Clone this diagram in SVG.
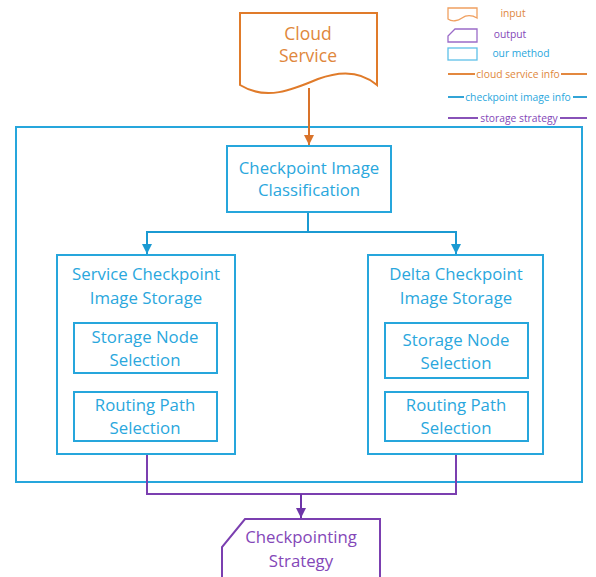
<svg xmlns="http://www.w3.org/2000/svg" width="596" height="577" viewBox="0 0 596 577">
<defs>
<marker id="ao" viewBox="0 0 10 10" refX="10" refY="5" markerWidth="10" markerHeight="10" markerUnits="userSpaceOnUse" orient="auto"><path d="M0,0 L10,5 L0,10 Z" fill="#D9732A"/></marker>
<marker id="ab" viewBox="0 0 10 10" refX="10" refY="5" markerWidth="10" markerHeight="10" markerUnits="userSpaceOnUse" orient="auto"><path d="M0,0 L10,5 L0,10 Z" fill="#1B9AD2"/></marker>
<marker id="ap" viewBox="0 0 10 10" refX="10" refY="5" markerWidth="10" markerHeight="10" markerUnits="userSpaceOnUse" orient="auto"><path d="M0,0 L10,5 L0,10 Z" fill="#6E35A8"/></marker>
<style>
text{font-family:"Open Sans","Liberation Sans",sans-serif;text-anchor:middle}
.t{font-size:16.8px}
.bl{fill:#2AA7DD}
.bx{fill:#fff;stroke:#26A6DC;stroke-width:2}
.or{fill:#E0873C}
.pu{fill:#8447B8}
.lg{font-size:10.3px}
</style>
</defs>
<g id="outer"><rect x="16" y="127" width="566" height="355" fill="none" stroke="#26A6DC" stroke-width="2"/></g>
<g id="legend">
<path d="M448,8 H477 V18 C472,15 466,15 462,18 C458,21 452,22 448,19 Z" fill="none" stroke="#F0A060" stroke-width="1.3"/>
<text class="lg or" x="513" y="17">input</text>
<path d="M448,42 V36 L455,29 H477 V42 Z" fill="none" stroke="#9B6BC8" stroke-width="1.3"/>
<text class="lg pu" x="510" y="38">output</text>
<rect x="448" y="48" width="29" height="12" fill="none" stroke="#5EC0E8" stroke-width="1.3"/>
<text class="lg bl" x="521" y="57">our method</text>
<line x1="448" y1="74" x2="475" y2="74" stroke="#E07B2A" stroke-width="1.8"/>
<line x1="561" y1="74" x2="587" y2="74" stroke="#E07B2A" stroke-width="1.8"/>
<text class="lg or" x="518" y="77.5">cloud service info</text>
<line x1="448" y1="97" x2="464" y2="97" stroke="#1B9AD2" stroke-width="1.8"/>
<line x1="573" y1="97" x2="587" y2="97" stroke="#1B9AD2" stroke-width="1.8"/>
<text class="lg bl" x="518" y="100.5">checkpoint image info</text>
<line x1="448" y1="118" x2="478" y2="118" stroke="#7B3FB0" stroke-width="1.8"/>
<line x1="560" y1="118" x2="587" y2="118" stroke="#7B3FB0" stroke-width="1.8"/>
<text class="lg pu" x="519" y="121.5">storage strategy</text>
</g>
<g id="connectors" fill="none" stroke-width="2">
<path d="M309,88 V145" stroke="#D9732A" marker-end="url(#ao)"/>
<path d="M308,212 V232 H147 V254" stroke="#1B9AD2" marker-end="url(#ab)"/>
<path d="M308,232 H456 V254" stroke="#1B9AD2" marker-end="url(#ab)"/>
<path d="M147,454 V494 H456 V454" stroke="#7B3FB0"/>
<path d="M301,494 V518" stroke="#6E35A8" marker-end="url(#ap)"/>
</g>
<g id="cloud-service">
<path d="M240,13 H377 V85 C362,72 342,70 318,79 C292,90 266,101 240,85 Z" fill="#fff" stroke="#E07B2A" stroke-width="2"/>
<text class="or" x="308" y="40" font-size="17.5">Cloud</text>
<text class="or" x="308" y="62" font-size="17.5">Service</text>
</g>
<g id="classification">
<rect class="bx" x="227" y="146" width="164" height="66"/>
<text class="t bl" x="309" y="174">Checkpoint Image</text>
<text class="t bl" x="309" y="196">Classification</text>
</g>
<g id="service-storage">
<rect class="bx" x="57" y="255" width="178" height="199"/>
<text class="t bl" x="146" y="280">Service Checkpoint</text>
<text class="t bl" x="146" y="304">Image Storage</text>
</g>
<g id="service-node">
<rect class="bx" x="74" y="323" width="143" height="50"/>
<text class="t bl" x="145" y="343">Storage Node</text>
<text class="t bl" x="145" y="366">Selection</text>
</g>
<g id="service-routing">
<rect class="bx" x="74" y="392" width="143" height="49"/>
<text class="t bl" x="145" y="411">Routing Path</text>
<text class="t bl" x="145" y="434">Selection</text>
</g>
<g id="delta-storage">
<rect class="bx" x="368" y="255" width="175" height="199"/>
<text class="t bl" x="456" y="280">Delta Checkpoint</text>
<text class="t bl" x="456" y="304">Image Storage</text>
</g>
<g id="delta-node">
<rect class="bx" x="385" y="323" width="143" height="55"/>
<text class="t bl" x="456" y="346">Storage Node</text>
<text class="t bl" x="456" y="369">Selection</text>
</g>
<g id="delta-routing">
<rect class="bx" x="385" y="392" width="143" height="49"/>
<text class="t bl" x="456" y="411">Routing Path</text>
<text class="t bl" x="456" y="434">Selection</text>
</g>
<g id="strategy">
<path d="M222,580 V547 L245,519 H380 V580" fill="#fff" stroke="#7B3FB0" stroke-width="2"/>
<text class="t pu" x="301" y="543">Checkpointing</text>
<text class="t pu" x="301" y="567">Strategy</text>
</g>
</svg>
